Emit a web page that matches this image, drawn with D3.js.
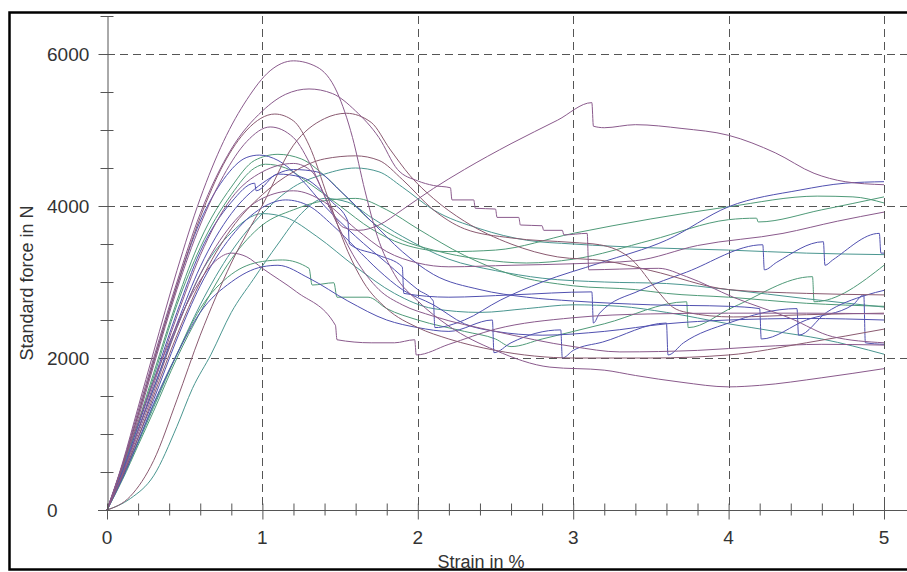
<!DOCTYPE html>
<html>
<head>
<meta charset="utf-8">
<script src="https://cdn.jsdelivr.net/npm/d3@7"></script>
<style>
  body { margin: 0; background: #fff; }
  svg { display: block; font-family: "Liberation Sans", Arial, sans-serif; }
</style>
</head>
<body>
<svg width="907" height="572"></svg>
<script>
// tick values
const strainTicks = [0, 1, 2, 3, 4, 5];
const forceTicks = [0, 2000, 4000, 6000];

// curves: [strain %, force N]
const curveP1 = [[0,0],[0.1,620],[0.2,1350],[0.3,2080],[0.45,3150],[0.6,4100],[0.75,4850],[0.9,5400],[1.05,5780],[1.2,5910],[1.35,5830],[1.48,5500],[1.58,4900],[1.66,4200],[1.74,3600],[1.85,3100],[2.0,2750],[2.2,2420],[2.5,2100],[2.85,1880],[3.2,1840],[3.4,1770],[3.7,1680],[4.0,1620],[4.2,1640],[4.6,1740],[5,1860]];
const curveP2 = [[0,0],[0.1,600],[0.2,1300],[0.3,2000],[0.45,3000],[0.6,3900],[0.8,4750],[1.0,5250],[1.15,5470],[1.3,5540],[1.45,5480],[1.6,5250],[1.75,4900],[1.87,4480],[2.0,4330],[2.1,4270],[2.21,4240],[2.22,4080],[2.36,4080],[2.37,3970],[2.5,3960],[2.51,3850],[2.65,3850],[2.66,3750],[2.8,3740],[2.81,3680],[2.93,3680],[2.94,3620],[3.09,3640],[3.1,3160],[3.3,3170],[3.55,3180],[3.73,3070],[4.03,2800],[4.4,2520],[4.67,2280],[5,2200]];
const curveP3 = [[0,0],[0.1,580],[0.2,1250],[0.3,1950],[0.45,2950],[0.6,3850],[0.75,4550],[0.9,5000],[1.08,5210],[1.2,5120],[1.3,4800],[1.42,4120],[1.55,3400],[1.65,3000],[1.8,2650],[2.0,2400],[2.2,2250],[2.5,2100],[3.0,2000],[3.5,2000],[4.0,2040],[4.5,2200],[5,2380]];
const curveP4 = [[0,0],[0.1,560],[0.2,1200],[0.3,1900],[0.45,2900],[0.6,3750],[0.75,4400],[0.9,4850],[1.05,5040],[1.2,4900],[1.32,4500],[1.45,3900],[1.6,3300],[1.75,2900],[1.9,2700],[2.1,2550],[2.5,2350],[3.0,2150],[3.3,2080],[3.8,2100],[4.2,2150],[4.6,2180],[5,2170]];
const curveP5 = [[0,0],[0.15,180],[0.3,650],[0.45,1450],[0.6,2300],[0.8,3250],[1.0,4010],[1.2,4800],[1.4,5150],[1.54,5220],[1.7,5100],[1.82,4750],[1.95,4400],[2.1,4100],[2.3,3800],[2.6,3500],[2.9,3330],[3.2,3280],[3.5,3150],[4.0,2900],[4.5,2850],[5,2830]];
const curveP6 = [[0,0],[0.1,480],[0.2,1050],[0.3,1650],[0.45,2550],[0.6,3350],[0.8,4100],[1.0,4450],[1.2,4560],[1.32,4450],[1.42,4050],[1.52,3720],[1.62,3680],[1.75,3750],[1.9,3950],[2.1,4230],[2.3,4480],[2.6,4820],[2.9,5130],[3.12,5360],[3.13,5050],[3.2,5030],[3.4,5070],[3.7,5020],[4.0,4930],[4.3,4700],[4.55,4430],[4.75,4320],[5,4280]];
const curveP7 = [[0,0],[0.1,580],[0.2,1150],[0.3,1700],[0.4,2200],[0.55,2850],[0.7,3280],[0.8,3380],[0.9,3330],[1.0,3180],[1.22,2870],[1.47,2430],[1.48,2240],[1.7,2200],[1.85,2200],[1.98,2240],[1.99,2040],[2.2,2180],[2.5,2380],[3.0,2530],[3.5,2580],[4,2590],[4.5,2590],[5,2580]];
const curveP8 = [[0,0],[0.1,450],[0.2,950],[0.3,1500],[0.45,2300],[0.6,3000],[0.8,3700],[1.0,4150],[1.2,4450],[1.4,4620],[1.6,4660],[1.75,4600],[1.9,4350],[2.1,3950],[2.3,3700],[2.6,3580],[3.0,3520],[3.17,3490],[3.38,3290],[3.54,2890],[3.64,2670],[3.73,2600],[4.03,2540],[4.5,2570],[5,2590]];
const curveP9 = [[0,0],[0.1,470],[0.2,1000],[0.3,1550],[0.45,2400],[0.6,3100],[0.8,3750],[1.0,4100],[1.2,4200],[1.4,4050],[1.6,3700],[1.8,3400],[2.0,3250],[2.2,3200],[2.6,3220],[3.0,3240],[3.4,3280],[3.8,3480],[4.35,3640],[4.7,3800],[5,3920]];
const curveB1 = [[0,0],[0.1,600],[0.2,1250],[0.3,1950],[0.45,2950],[0.6,3800],[0.75,4350],[0.9,4640],[0.98,4670],[1.1,4600],[1.25,4350],[1.4,4000],[1.6,3600],[1.8,3250],[2.0,2900],[2.1,2750],[2.11,2400],[2.3,2500],[2.53,2760],[2.8,3000],[3.17,3250],[3.6,3550],[4.0,3990],[4.46,4210],[4.75,4300],[5,4320]];
const curveB2 = [[0,0],[0.1,520],[0.2,1100],[0.3,1700],[0.45,2600],[0.6,3400],[0.8,4050],[0.95,4300],[0.96,4200],[1.1,4420],[1.25,4380],[1.45,4050],[1.55,3800],[1.56,3500],[1.75,3350],[1.9,3200],[1.91,2850],[2.2,2800],[2.6,2830],[3.12,2870],[3.13,2460],[3.17,2590],[3.43,2890],[3.73,3130],[4.22,3490],[4.23,3160],[4.31,3260],[4.61,3530],[4.62,3220],[4.67,3290],[4.97,3640],[4.98,3380],[5,3380]];
const curveB3 = [[0,0],[0.1,420],[0.2,900],[0.3,1400],[0.45,2050],[0.6,2600],[0.8,3000],[1.0,3200],[1.1,3220],[1.3,3050],[1.55,2750],[1.8,2500],[2.0,2400],[2.2,2350],[2.48,2500],[2.49,2070],[2.6,2200],[2.92,2370],[2.93,2000],[3.0,2100],[3.19,2210],[3.6,2460],[3.61,2040],[3.71,2200],[4.0,2460],[4.44,2650],[4.45,2300],[4.63,2600],[4.89,2830],[5,2890]];
const curveB4 = [[0,0],[0.1,500],[0.2,1050],[0.3,1600],[0.45,2450],[0.6,3200],[0.8,3900],[1.0,4300],[1.2,4480],[1.35,4450],[1.5,4200],[1.7,3800],[1.9,3400],[2.1,3100],[2.4,2900],[2.7,2800],[3.0,2750],[3.5,2700],[4.0,2680],[4.2,2650],[4.21,2250],[4.5,2500],[4.8,2700],[4.87,2830],[4.88,2200],[5,2180]];
const curveB5 = [[0,0],[0.1,450],[0.2,950],[0.3,1450],[0.45,2250],[0.6,2950],[0.8,3600],[1.0,3980],[1.15,4080],[1.3,4000],[1.45,3750],[1.6,3450],[1.75,3150],[1.9,2900],[2.1,2700],[2.3,2450],[2.5,2350],[2.8,2300],[3.2,2350],[3.6,2450],[4,2500],[4.5,2520],[5,2500]];
const curveG1 = [[0,0],[0.1,550],[0.2,1150],[0.3,1800],[0.45,2750],[0.6,3550],[0.8,4250],[0.95,4600],[1.1,4680],[1.25,4620],[1.4,4400],[1.55,4100],[1.7,3800],[1.9,3550],[2.1,3420],[2.4,3300],[2.7,3250],[3.0,3300],[3.5,3550],[4.0,3820],[4.18,3840],[4.19,3790],[4.6,3950],[5,4120]];
const curveG2 = [[0,0],[0.1,540],[0.2,1120],[0.3,1750],[0.45,2700],[0.6,3450],[0.8,4150],[0.95,4500],[1.02,4550],[1.15,4500],[1.3,4300],[1.5,4000],[1.7,3700],[1.9,3500],[2.2,3400],[2.5,3420],[3.0,3640],[3.5,3830],[4.0,3990],[4.57,4130],[4.8,4120],[5,4040]];
const curveG3 = [[0,0],[0.1,500],[0.2,1050],[0.3,1600],[0.45,2400],[0.6,3100],[0.8,3650],[1.0,3900],[1.15,3850],[1.35,3600],[1.6,3200],[1.85,2850],[2.1,2650],[2.4,2600],[2.7,2650],[3.0,2700],[3.3,2680],[3.6,2600],[4.0,2450],[4.3,2350],[4.6,2250],[5,2050]];
const curveG4 = [[0,0],[0.15,150],[0.3,450],[0.45,1100],[0.55,1600],[0.67,2050],[0.8,2600],[0.94,3030],[1.1,3500],[1.25,3900],[1.4,4100],[1.55,4050],[1.7,3850],[1.9,3600],[2.2,3300],[2.5,3150],[2.8,3050],[3.2,3000],[3.6,2980],[4.0,2900],[4.5,2780],[5,2670]];
const curveG5 = [[0,0],[0.1,430],[0.2,900],[0.3,1380],[0.45,2050],[0.6,2650],[0.8,3100],[1.0,3270],[1.13,3290],[1.3,3180],[1.32,2960],[1.46,2990],[1.48,2800],[1.68,2800],[1.8,2650],[2.0,2500],[2.3,2350],[2.5,2250],[2.6,2150],[2.8,2250],[3.2,2450],[3.73,2740],[3.74,2400],[4.03,2670],[4.54,3070],[4.55,2740],[5,3220]];
const curveG6 = [[0,0],[0.1,420],[0.2,880],[0.3,1350],[0.45,2050],[0.6,2700],[0.8,3400],[1.0,3900],[1.2,4250],[1.4,4420],[1.6,4500],[1.75,4450],[1.9,4250],[2.1,3950],[2.4,3700],[2.7,3550],[3.0,3500],[3.5,3450],[4.0,3420],[4.5,3380],[5,3360]];
const curveG7 = [[0,0],[0.1,400],[0.2,850],[0.3,1300],[0.45,2000],[0.6,2600],[0.8,3300],[1.0,3750],[1.2,3950],[1.4,4070],[1.6,4100],[1.8,3950],[2.0,3700],[2.3,3350],[2.6,3100],[3.0,2950],[3.4,2900],[3.6,2850],[4,2800],[4.5,2720],[5,2680]];

const purple = "#8a5a8c", blue = "#5050b0", green = "#4f9a78", teal = "#4a9690";
const series = [
  {pts: curveG4, color: teal}, {pts: curveG7, color: green}, {pts: curveG6, color: teal},
  {pts: curveG5, color: green}, {pts: curveG3, color: teal}, {pts: curveG2, color: green},
  {pts: curveG1, color: green}, {pts: curveB5, color: blue}, {pts: curveB4, color: blue},
  {pts: curveB3, color: blue}, {pts: curveB2, color: blue}, {pts: curveB1, color: blue},
  {pts: curveP9, color: purple}, {pts: curveP8, color: "#8a5a70"}, {pts: curveP7, color: purple},
  {pts: curveP6, color: purple}, {pts: curveP5, color: "#8a5a70"}, {pts: curveP4, color: purple},
  {pts: curveP3, color: "#8a5a70"}, {pts: curveP2, color: purple}, {pts: curveP1, color: purple}
];

const svg = d3.select("svg");
const x = d3.scaleLinear().domain([0, 5]).range([107, 884]);
const y = d3.scaleLinear().domain([0, 6500]).range([510, 16]);
const axisColor = "#555";

// outer frame
svg.append("rect")
  .attr("x", 9.5).attr("y", 12.5).attr("width", 1000).attr("height", 557)
  .attr("fill", "none").attr("stroke", "#000").attr("stroke-width", 2.5);

// dashed grid
svg.append("g").selectAll("line.h")
  .data(forceTicks.filter(d => d > 0))
  .join("line")
  .attr("x1", x(0)).attr("x2", 907)
  .attr("y1", d => Math.round(y(d)) + 0.5).attr("y2", d => Math.round(y(d)) + 0.5)
  .attr("stroke", axisColor).attr("stroke-dasharray", "8,5");

svg.append("g").selectAll("line.v")
  .data(strainTicks.filter(d => d > 0))
  .join("line")
  .attr("x1", d => Math.round(x(d)) + 0.5).attr("x2", d => Math.round(x(d)) + 0.5)
  .attr("y1", y(6500)).attr("y2", y(0))
  .attr("stroke", axisColor).attr("stroke-dasharray", "8,5");

// curves
const line = d3.line()
  .x(d => x(d[0]))
  .y(d => y(d[1]))
  .curve(d3.curveMonotoneX);

svg.append("g").selectAll("path")
  .data(series)
  .join("path")
  .attr("fill", "none")
  .attr("stroke", d => d.color)
  .attr("stroke-width", 1)
  .attr("d", d => line(d.pts));

// y axis
const yAxis = svg.append("g").attr("transform", `translate(${x(0) + 0.5},0)`);
yAxis.call(d3.axisLeft(y).tickValues(d3.range(0, 6501, 500)).tickSize(0).tickFormat(""));
yAxis.select(".domain").attr("stroke", axisColor);
yAxis.selectAll(".tick line").remove();
yAxis.selectAll(".tick").append("line")
  .attr("x1", d => forceTicks.includes(d) ? -9 : -7)
  .attr("x2", d => forceTicks.includes(d) ? 0 : 6)
  .attr("stroke", axisColor);

svg.append("g").selectAll("text")
  .data(forceTicks)
  .join("text")
  .attr("x", 47).attr("y", d => y(d) + 7)
  .attr("font-size", 19).attr("fill", "#333")
  .text(d => d);

// x axis
const xAxis = svg.append("g").attr("transform", `translate(0,${y(0) + 0.5})`);
xAxis.call(d3.axisBottom(x).tickValues(d3.range(0, 5.01, 0.2)).tickSize(0).tickFormat(""));
xAxis.select(".domain").remove();
xAxis.append("line").attr("x1", 98).attr("x2", 907).attr("stroke", axisColor);
xAxis.selectAll(".tick line").remove();
xAxis.selectAll(".tick").append("line")
  .attr("y1", -7)
  .attr("y2", d => Math.abs(d - Math.round(d)) < 1e-6 ? 9 : 5)
  .attr("stroke", axisColor);

svg.append("g").selectAll("text")
  .data(strainTicks)
  .join("text")
  .attr("x", d => x(d)).attr("y", 544)
  .attr("text-anchor", "middle")
  .attr("font-size", 19).attr("fill", "#333")
  .text(d => d);

// axis titles
svg.append("text")
  .attr("x", 481).attr("y", 568)
  .attr("text-anchor", "middle")
  .attr("font-size", 18).attr("fill", "#333")
  .text("Strain in %");

svg.append("text")
  .attr("transform", "translate(33,283) rotate(-90)")
  .attr("text-anchor", "middle")
  .attr("font-size", 18).attr("fill", "#333")
  .text("Standard force in N");
</script>
</body>
</html>
